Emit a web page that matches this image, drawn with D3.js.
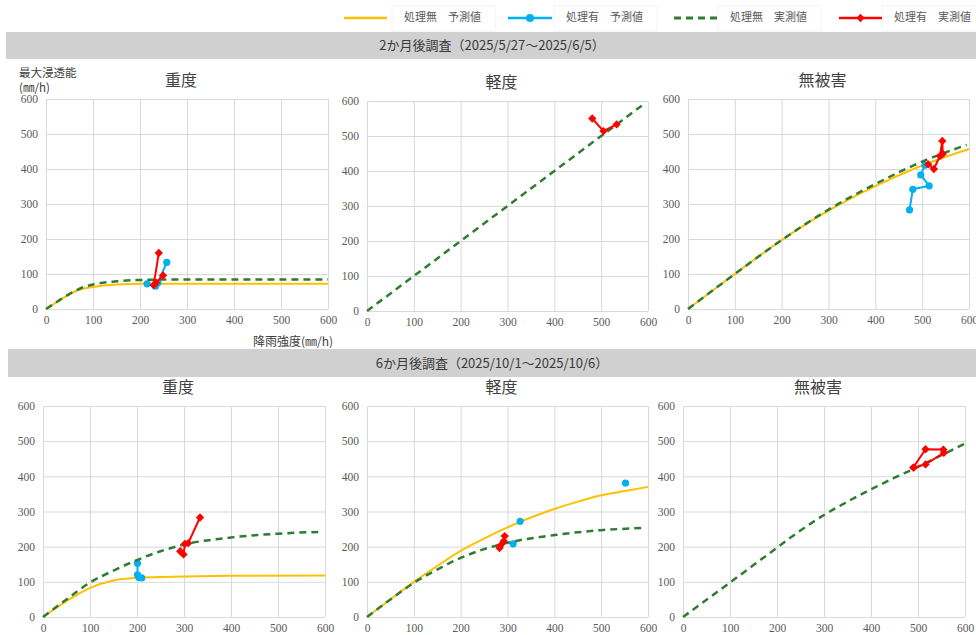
<!DOCTYPE html>
<html lang="ja">
<head>
<meta charset="utf-8">
<script src="https://cdn.jsdelivr.net/npm/d3@7"></script>
<style>
  html, body { margin: 0; padding: 0; background: #ffffff; }
  svg { display: block; }
  text { font-family: "Noto Sans CJK JP", "Noto Sans", sans-serif; }
  .tick text { font-family: "Liberation Serif", "DejaVu Serif", serif; }
</style>
</head>
<body>
<svg id="chart" width="976" height="635"></svg>
<script>
// ---- axis ticks and labels ----
const xTicks = [0, 100, 200, 300, 400, 500, 600];
const yTicks = [0, 100, 200, 300, 400, 500, 600];
const damageLevels = ["重度", "軽度", "無被害"];
const surveyTitles = ["2か月後調査（2025/5/27～2025/6/5）", "6か月後調査（2025/10/1～2025/10/6）"];
const seriesNames = ["処理無　予測値", "処理有　予測値", "処理無　実測値", "処理有　実測値"];
const yAxisLabel = ["最大浸透能", "(㎜/h)"];
const xAxisLabel = "降雨強度(㎜/h)";

// ---- 2か月後調査: [降雨強度, 最大浸透能] ----
const m2HeavyPredUntreated = [[0,0],[25,22],[50,42],[70,55],[100,63],[150,70],[200,72],[300,72],[600,72]];
const m2HeavyPredTreated   = [[215,72],[233,65],[238,75],[257,133]];
const m2HeavyObsUntreated  = [[0,0],[25,22],[50,43],[75,60],[100,70],[150,79],[200,83],[250,84],[600,84]];
const m2HeavyObsTreated    = [[240,160],[229,68],[234,75],[249,96]];

const m2LightPredUntreated = [];
const m2LightPredTreated   = [];
const m2LightObsUntreated  = [[0,0],[100,100],[200,200],[300,300],[400,400],[500,500],[595,595]];
const m2LightObsTreated    = [[481,550],[505,514],[533,533]];

const m2NonePredUntreated  = [[0,0],[100,100],[200,197],[300,281],[400,351],[500,410],[600,457]];
const m2NonePredTreated    = [[473,283],[480,342],[515,352],[497,383],[506,411]];
const m2NoneObsUntreated   = [[0,0],[100,100],[200,197],[300,284],[400,357],[500,421],[595,469]];
const m2NoneObsTreated     = [[513,413],[525,400],[538,437],[543,480],[544,443]];

// ---- 6か月後調査 ----
const m6HeavyPredUntreated = [[0,0],[50,45],[100,83],[150,104],[200,111],[300,115],[400,117],[600,118]];
const m6HeavyPredTreated   = [[201,153],[201,120],[204,112],[210,111]];
const m6HeavyObsUntreated  = [[0,0],[50,50],[100,98],[150,132],[200,162],[250,187],[300,206],[400,226],[500,237],[590,242]];
const m6HeavyObsTreated    = [[334,283],[309,210],[302,208],[299,178],[292,187]];

const m6LightPredUntreated = [[0,0],[50,50],[100,100],[150,145],[200,188],[250,223],[300,255],[350,283],[400,307],[450,328],[500,346],[550,358],[600,370]];
const m6LightPredTreated   = [[327,272], null, [312,208], null, [552,381]];
const m6LightObsUntreated  = [[0,0],[50,50],[100,97],[150,135],[200,168],[250,193],[300,211],[400,233],[500,247],[590,253]];
const m6LightObsTreated    = [[283,196],[285,203],[292,216],[294,230]];

const m6NonePredUntreated  = [];
const m6NonePredTreated    = [];
const m6NoneObsUntreated   = [[0,0],[100,98],[200,197],[250,246],[300,290],[350,328],[400,363],[450,396],[500,427],[550,460],[600,493]];
const m6NoneObsTreated     = [[490,425],[516,477],[554,476],[555,467],[516,434],[491,425]];

// ---- series styling ----
const seriesStyle = [
  { color: "#ffc000", width: 2,   dash: null,  marker: null },
  { color: "#00b0f0", width: 2,   dash: null,  marker: "circle" },
  { color: "#2e7d32", width: 2.5, dash: "7,5", marker: null },
  { color: "#ff0000", width: 2,   dash: null,  marker: "diamond" }
];

// ---- panel layout (plot area boxes) ----
const panels = [
  { row: 0, col: 0, box: [46, 99, 328, 309],  data: [m2HeavyPredUntreated, m2HeavyPredTreated, m2HeavyObsUntreated, m2HeavyObsTreated], axisTitles: true },
  { row: 0, col: 1, box: [367, 101, 648, 311], data: [m2LightPredUntreated, m2LightPredTreated, m2LightObsUntreated, m2LightObsTreated] },
  { row: 0, col: 2, box: [688, 99, 969, 309], data: [m2NonePredUntreated, m2NonePredTreated, m2NoneObsUntreated, m2NoneObsTreated] },
  { row: 1, col: 0, box: [43, 406, 325, 617], data: [m6HeavyPredUntreated, m6HeavyPredTreated, m6HeavyObsUntreated, m6HeavyObsTreated] },
  { row: 1, col: 1, box: [367, 406, 648, 617], data: [m6LightPredUntreated, m6LightPredTreated, m6LightObsUntreated, m6LightObsTreated] },
  { row: 1, col: 2, box: [683, 406, 965, 617], data: [m6NonePredUntreated, m6NonePredTreated, m6NoneObsUntreated, m6NoneObsTreated] }
];

const svg = d3.select("#chart");

// ---- survey banners ----
const banners = [
  { x: 6, y: 32, w: 970, h: 27 },
  { x: 8, y: 349, w: 968, h: 28 }
];
banners.forEach((b, i) => {
  svg.append("rect").attr("x", b.x).attr("y", b.y).attr("width", b.w).attr("height", b.h)
    .attr("fill", "#d0d0d0");
  svg.append("text").attr("x", 492).attr("y", b.y + b.h / 2 + 1)
    .attr("text-anchor", "middle").attr("dominant-baseline", "middle")
    .attr("font-size", 13).attr("fill", "#3a3a3a").text(surveyTitles[i]);
});

// ---- legend ----
const legendItems = [
  { x0: 344, x1: 387, tx: 404 },
  { x0: 508, x1: 552, tx: 566 },
  { x0: 674, x1: 717, tx: 730 },
  { x0: 839, x1: 882, tx: 894 }
];
const legendY = 18;
const diamond = d3.symbol().type(d3.symbolDiamond2).size(44);
legendItems.forEach((it, i) => {
  const st = seriesStyle[i];
  const g = svg.append("g");
  g.append("rect").attr("x", it.tx - 12).attr("y", 6).attr("width", 103).attr("height", 25)
    .attr("fill", "none").attr("stroke", "#f4f4f4");
  g.append("line").attr("x1", it.x0).attr("x2", it.x1).attr("y1", legendY).attr("y2", legendY)
    .attr("stroke", st.color).attr("stroke-width", st.width + 0.5)
    .attr("stroke-dasharray", st.dash);
  const mx = (it.x0 + it.x1) / 2;
  if (st.marker === "circle") {
    g.append("circle").attr("cx", mx).attr("cy", legendY).attr("r", 4).attr("fill", st.color);
  } else if (st.marker === "diamond") {
    g.append("path").attr("d", diamond).attr("transform", `translate(${mx},${legendY})`).attr("fill", st.color);
  }
  g.append("text").attr("x", it.tx).attr("y", legendY).attr("dominant-baseline", "middle")
    .attr("font-size", 11).attr("fill", "#595959").text(seriesNames[i]);
});

// ---- panels ----
panels.forEach(p => {
  const [x0, y0, x1, y1] = p.box;
  const w = x1 - x0, h = y1 - y0;
  const x = d3.scaleLinear().domain([0, 600]).range([x0, x1]);
  const y = d3.scaleLinear().domain([0, 600]).range([y1, y0]);
  const g = svg.append("g");

  // grid via axes
  const gx = g.append("g").attr("transform", `translate(0,${y1})`)
    .call(d3.axisBottom(x).tickValues(xTicks).tickSize(-h).tickPadding(7).tickFormat(d3.format("d")));
  const gy = g.append("g").attr("transform", `translate(${x0},0)`)
    .call(d3.axisLeft(y).tickValues(yTicks).tickSize(-w).tickPadding(8).tickFormat(d3.format("d")));
  [gx, gy].forEach(a => {
    a.select(".domain").remove();
    a.selectAll(".tick line").attr("stroke", "#d9d9d9").attr("stroke-width", 1);
    a.selectAll(".tick text").attr("fill", "#595959").attr("font-size", 11.5);
  });

  // panel title
  g.append("text").attr("x", (x0 + x1) / 2 - 6).attr("y", y0 - 13)
    .attr("text-anchor", "middle").attr("font-size", 16).attr("fill", "#404040")
    .text(damageLevels[p.col]);

  if (p.axisTitles) {
    g.append("text").attr("x", 19).attr("y", 77).attr("font-size", 11.5).attr("fill", "#404040").text(yAxisLabel[0]);
    g.append("text").attr("x", 19).attr("y", 92).attr("font-size", 11.5).attr("fill", "#404040").text(yAxisLabel[1]);
    g.append("text").attr("x", 333).attr("y", 346).attr("text-anchor", "end")
      .attr("font-size", 12).attr("fill", "#404040").text(xAxisLabel);
  }

  const line = d3.line().defined(d => d != null).x(d => x(d[0])).y(d => y(d[1]));
  const smooth = d3.line().defined(d => d != null).x(d => x(d[0])).y(d => y(d[1])).curve(d3.curveMonotoneX);

  p.data.forEach((series, si) => {
    if (!series.length) return;
    const st = seriesStyle[si];
    const gen = st.marker ? line : smooth;
    g.append("path").datum(series).attr("d", gen)
      .attr("fill", "none").attr("stroke", st.color).attr("stroke-width", st.width)
      .attr("stroke-dasharray", st.dash).attr("stroke-linejoin", "round");
    const pts = series.filter(d => d != null);
    if (st.marker === "circle") {
      g.selectAll(null).data(pts).join("circle")
        .attr("cx", d => x(d[0])).attr("cy", d => y(d[1])).attr("r", 3.6).attr("fill", st.color);
    } else if (st.marker === "diamond") {
      g.selectAll(null).data(pts).join("path").attr("d", diamond)
        .attr("transform", d => `translate(${x(d[0])},${y(d[1])})`).attr("fill", st.color);
    }
  });
});
</script>
</body>
</html>
